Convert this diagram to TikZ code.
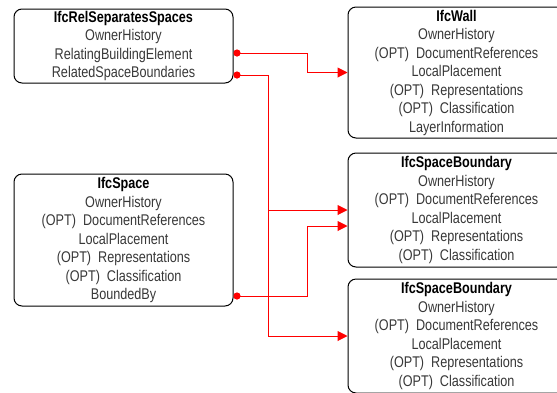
\documentclass[tikz,border=0pt]{standalone}
\usepackage{fontspec}
\setmainfont{Liberation Sans}[FakeStretch=0.815]
\usetikzlibrary{arrows.meta}
\newcommand\entitytitle[1]{\textcolor{black}{\bfseries #1}}
\tikzset{
  entity/.style={draw=black, line width=1pt, rounded corners=8pt, align=center,
    font=\fontsize{15.5}{18.5}\selectfont, text=black!78, inner sep=0pt},
  conn/.style={draw=red, line width=1pt, -{Triangle[length=10pt,width=10pt]}},
  plain/.style={draw=red, line width=1pt},
  joint/.style={fill=red, draw=none}
}
\begin{document}
\begin{tikzpicture}[x=1pt,y=-1pt]
\clip (0,0) rectangle (557,392);
\fill[white] (0,0) rectangle (557,392);
\node[entity, minimum width=219pt, minimum height=74pt] (rel) at (123.5,46)
  {\entitytitle{IfcRelSeparatesSpaces}\\OwnerHistory\\RelatingBuildingElement\\RelatedSpaceBoundaries};
\node[entity, minimum width=219pt, minimum height=132pt] (space) at (123.5,240)
  {\entitytitle{IfcSpace}\\OwnerHistory\\(OPT)\ \ DocumentReferences\\LocalPlacement\\(OPT)\ \ Representations\\(OPT)\ \ Classification\\BoundedBy};
\node[entity, minimum width=217pt, minimum height=131pt] (wall) at (456.5,72.5)
  {\entitytitle{IfcWall}\\OwnerHistory\\(OPT)\ \ DocumentReferences\\LocalPlacement\\(OPT)\ \ Representations\\(OPT)\ \ Classification\\LayerInformation};
\node[entity, minimum width=217pt, minimum height=114pt] (sb1) at (456.5,210)
  {\entitytitle{IfcSpaceBoundary}\\OwnerHistory\\(OPT)\ \ DocumentReferences\\LocalPlacement\\(OPT)\ \ Representations\\(OPT)\ \ Classification};
\node[entity, minimum width=217pt, minimum height=114pt] (sb2) at (456.5,336)
  {\entitytitle{IfcSpaceBoundary}\\OwnerHistory\\(OPT)\ \ DocumentReferences\\LocalPlacement\\(OPT)\ \ Representations\\(OPT)\ \ Classification};
\coordinate (d1) at (237,53);
\coordinate (d2) at (237,75);
\coordinate (d3) at (237,296);
\coordinate (j2) at (268,75);
\coordinate (j1) at (307,53);
\coordinate (j3) at (307,296);
\draw[conn] (d1) -- (j1) |- (wall.west);
\draw[plain] (d2) -- (j2);
\draw[conn] (j2) |- (sb1.west);
\draw[conn] (j2) |- (sb2.west);
\draw[conn] (d3) -- (j3) |- ([yshift=-16pt]sb1.west);
\fill[joint] (d1) circle (3.6pt);
\fill[joint] (d2) circle (3.6pt);
\fill[joint] (d3) circle (3.6pt);
\end{tikzpicture}
\end{document}
